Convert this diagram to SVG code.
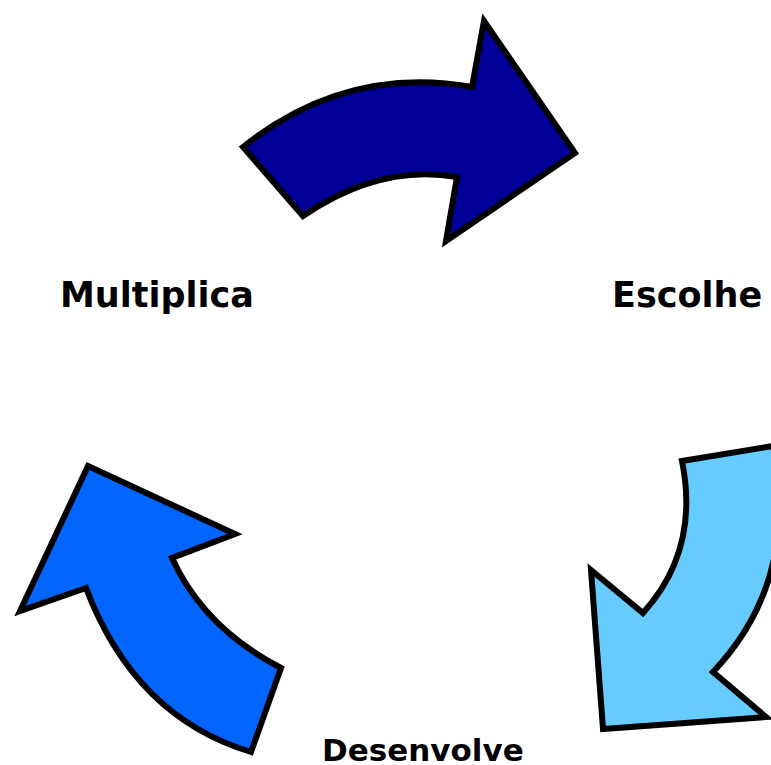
<svg xmlns="http://www.w3.org/2000/svg" width="771" height="765" viewBox="0 0 771 765">
<style>
.arrow{stroke:#000;stroke-width:6;stroke-linejoin:miter}
.lbl{font-family:"DejaVu Sans",sans-serif;font-weight:bold;fill:#000}
</style>
<rect width="771" height="765" fill="#fff"/>
<g id="connectors">
<path id="arrow-top" class="arrow" fill="#000099" d="M243,147 Q346,65 472,87 L484,21 L575,153 L446,241 L457,177 Q380,163.5 303,216 Z"/>
<path id="arrow-right" class="arrow" fill="#66CCFF" d="M682,461 L773,446 Q800,580 713,672 L766,717 L603,729 L591,570 L643,613 Q700,550 682,461 Z"/>
<path id="arrow-left" class="arrow" fill="#0066FF" d="M251,752 L281,668 Q204,628 172,558 L235,534 L88,466 L20,611 L86,588 Q135,717 251,752 Z"/>
</g>
<g id="node-multiplica"><text class="lbl" x="60" y="307" font-size="35">Multiplica</text></g>
<g id="node-escolhe"><text class="lbl" x="612" y="307" font-size="35">Escolhe</text></g>
<g id="node-desenvolve"><text class="lbl" x="322" y="761" font-size="31">Desenvolve</text></g>
</svg>
